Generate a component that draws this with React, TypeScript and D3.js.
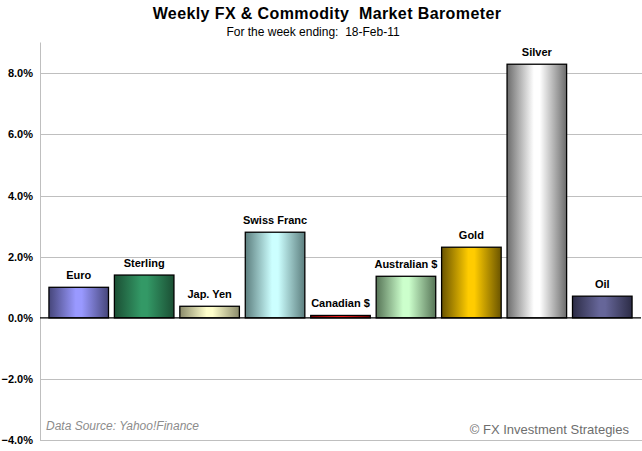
import React from 'react';
import * as d3 from 'd3';

// weekly % change per instrument
const categories = ['Euro', 'Sterling', 'Jap. Yen', 'Swiss Franc', 'Canadian $', 'Australian $', 'Gold', 'Silver', 'Oil'];
const changes = [1.0, 1.4, 0.38, 2.8, 0.08, 1.36, 2.31, 8.29, 0.71];
const yTicks = [-4, -2, 0, 2, 4, 6, 8];

// edge / centre colours of each bar's gradient
const edgeColors = ['#46467a', '#1b4f34', '#8a8a6a', '#5c7e7e', '#7a0000', '#567456', '#6a5400', '#6c6c6c', '#2c2c46'];
const midColors = ['#9999ff', '#339966', '#ffffcc', '#ccffff', '#ff1a1a', '#ccffcc', '#ffcc00', '#ffffff', '#666699'];

const W = 642;
const H = 451;
const FONT = '"Liberation Sans", Arial, sans-serif';

export default function App() {
  const plotLeft = 40;
  const plotRight = 642;

  const x = d3.scaleBand<string>()
    .domain(categories)
    .range([46, 635])
    .paddingInner(0.09)
    .paddingOuter(0.045);

  const y = d3.scaleLinear().domain([-4, 9]).range([440.3, 42.5]);
  const fmt = d3.format('.1f');

  return (
    <svg width={W} height={H} style={{ position: 'absolute', left: 0, top: 0, background: '#fff' }}>
      <defs>
        {categories.map((c, i) => (
          <linearGradient key={c} id={`grad${i}`} x1="0" x2="1" y1="0" y2="0">
            <stop offset="0%" stopColor={edgeColors[i]} />
            <stop offset="45%" stopColor={midColors[i]} />
            <stop offset="55%" stopColor={midColors[i]} />
            <stop offset="100%" stopColor={edgeColors[i]} />
          </linearGradient>
        ))}
      </defs>

      <text x={327} y={19} textAnchor="middle" fontFamily={FONT} fontWeight="bold" fontSize={16}
        letterSpacing={0.4} fill="#000" style={{ whiteSpace: 'pre' }}>
        {'Weekly FX & Commodity  Market Barometer'}
      </text>
      <text x={313} y={36} textAnchor="middle" fontFamily={FONT} fontSize={12} fill="#000" style={{ whiteSpace: 'pre' }}>
        {'For the week ending:  18-Feb-11'}
      </text>

      {/* gridlines */}
      {yTicks.filter(t => t !== 0).map(t => (
        <line key={t} x1={plotLeft} x2={plotRight} y1={Math.round(y(t)) + 0.5} y2={Math.round(y(t)) + 0.5}
          stroke="#bfbfbf" strokeWidth={1} />
      ))}
      <line x1={plotLeft + 0.5} x2={plotLeft + 0.5} y1={y(9)} y2={y(-4)} stroke="#bfbfbf" strokeWidth={1} />

      {/* tick labels */}
      {yTicks.map(t => (
        <text key={t} x={33} y={y(t) + 4} textAnchor="end" fontFamily={FONT} fontWeight="bold" fontSize={11} fill="#000">
          {fmt(t)}%
        </text>
      ))}

      {/* bars */}
      {categories.map((c, i) => {
        const v = changes[i];
        const top = y(Math.max(0, v));
        const h = Math.abs(y(v) - y(0));
        return (
          <g key={c}>
            <rect x={x(c)} y={top} width={x.bandwidth()} height={h}
              fill={`url(#grad${i})`} stroke="#000" strokeWidth={1.3} />
            <text x={(x(c) as number) + x.bandwidth() / 2} y={top - 8} textAnchor="middle"
              fontFamily={FONT} fontWeight="bold" fontSize={11} fill="#000">
              {c}
            </text>
          </g>
        );
      })}

      <line x1={plotLeft} x2={plotRight - 1} y1={y(0)} y2={y(0)} stroke="#000" strokeWidth={1.3} />

      <text x={46} y={430} fontFamily={FONT} fontStyle="italic" fontSize={12} fill="#8c8c8c">
        Data Source: Yahoo!Finance
      </text>
      <text x={629} y={434} textAnchor="end" fontFamily={FONT} fontSize={13} fill="#6e6e6e">
        © FX Investment Strategies
      </text>
    </svg>
  );
}
